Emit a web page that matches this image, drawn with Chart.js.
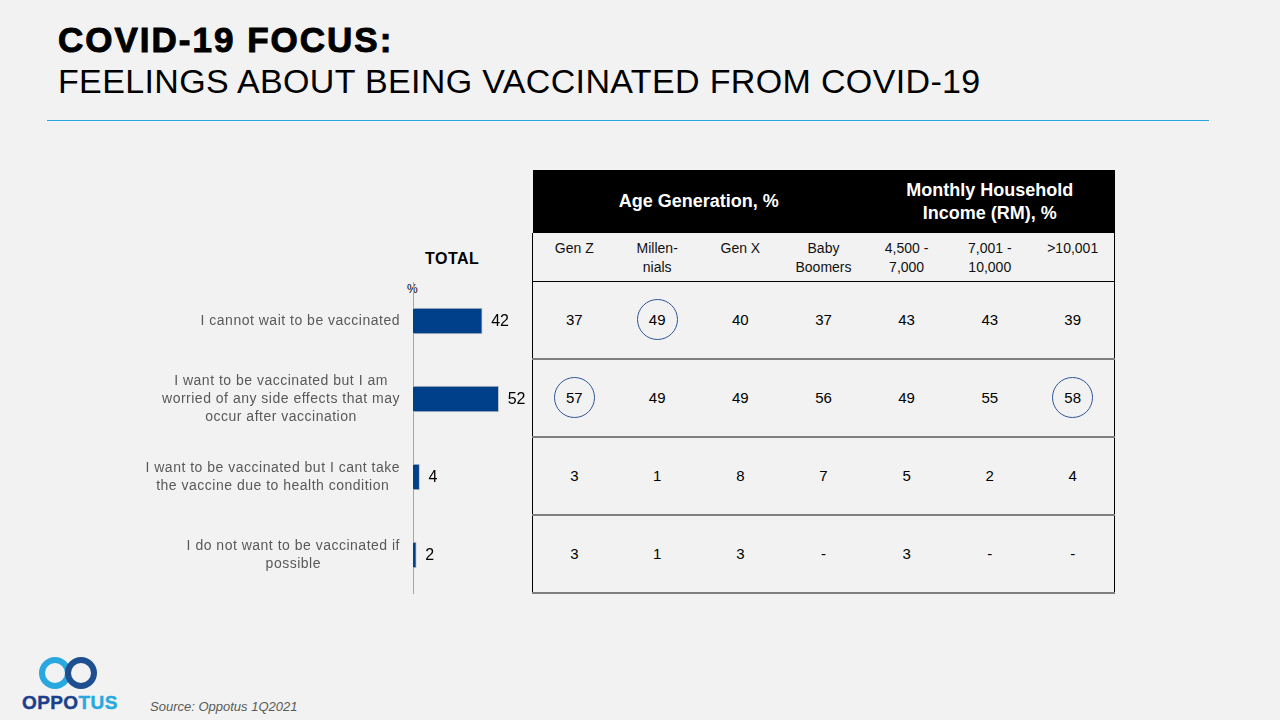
<!DOCTYPE html>
<html lang="en">

<head>
    <meta charset="UTF-8">
    <title>COVID-19 Focus - Feelings About Being Vaccinated</title>
    <script src="https://cdn.jsdelivr.net/npm/chart.js"></script>
    <style>
        body { margin: 0; width: 1280px; height: 720px; background: #f2f2f2; font-family: "Liberation Sans", Arial, sans-serif; position: relative; overflow: hidden; }
        .title { position: absolute; left: 58px; top: 20px; font-size: 35px; font-weight: bold; color: #000; -webkit-text-stroke: 1px #000; letter-spacing: 2px; }
        .subtitle { position: absolute; left: 58px; top: 62px; font-size: 34px; color: #000; letter-spacing: 0.35px; }
        .rule { position: absolute; left: 47px; top: 120px; width: 1162px; height: 1px; background: #29a8e0; }
        #chartBox { position: absolute; left: 0; top: 282px; width: 530px; height: 312px; }
        .total { position: absolute; left: 425px; top: 250px; font-size: 16px; font-weight: bold; color: #000; letter-spacing: 0.5px; }
        .pct { position: absolute; left: 407px; top: 282px; font-size: 12px; color: #000; }
        table { position: absolute; left: 532px; top: 170px; width: 583px; border-collapse: collapse; table-layout: fixed; }
        td, th { text-align: center; padding: 0; }
        th { background: #000; color: #fff; font-size: 18px; font-weight: bold; height: 63px; line-height: 23px; }
        .sub td { height: 48px; vertical-align: top; font-size: 14px; line-height: 19px; padding-top: 6px; box-sizing: border-box; color: #111; border-bottom: 1px solid #000; border-left: 1px solid #000; border-right: 1px solid #000; }
        .sub td + td { border-left: none; }
        .sub td:not(:last-child) { border-right: none; }
        .row td { height: 76px; font-size: 15px; color: #000; border-bottom: 2px solid #7f7f7f; }
        .row td:first-child { border-left: 1px solid #000; }
        .row td:last-child { border-right: 1px solid #000; }
        .ring { display: inline-block; width: 39px; height: 39px; line-height: 39px; border: 1px solid #2f5597; border-radius: 50%; }
        .logo-ring { position: absolute; width: 20px; height: 20px; border-radius: 50%; border: 6px solid; }
        .logo-text { position: absolute; left: 22px; top: 692px; font-size: 19px; font-weight: bold; letter-spacing: 0.4px; -webkit-text-stroke: 0.4px; }
        .source { position: absolute; left: 150px; top: 699px; font-size: 13px; font-style: italic; color: #595959; }
    </style>
</head>

<body>
    <div class="title">COVID-19 FOCUS:</div>
    <div class="subtitle">FEELINGS ABOUT BEING VACCINATED FROM COVID-19</div>
    <div class="rule"></div>

    <div class="total">TOTAL</div>
    <div class="pct">%</div>
    <div id="chartBox"><canvas id="totalChart"></canvas></div>

    <table id="breakdown"></table>

    <div class="logo-ring" style="left:39px; top:657px; border-color:#29a8e0;"></div>
    <div class="logo-ring" style="left:65px; top:657px; border-color:#1d4f91;"></div>
    <div class="logo-text"><span style="color:#1b3f8b">OPPO</span><span style="color:#29a8e0">TUS</span></div>
    <div class="source">Source: Oppotus 1Q2021</div>

    <script>
        // statements (one array of lines per row)
        const statements = [
            ['I cannot wait to be vaccinated'],
            ['I want to be vaccinated but I am', 'worried of any side effects that may', 'occur after vaccination'],
            ['I want to be vaccinated but I cant take', 'the vaccine due to health condition'],
            ['I do not want to be vaccinated if', 'possible']
        ];
        const totalPct = [42, 52, 4, 2];

        const groupHeaders = ['Age Generation, %', 'Monthly Household Income (RM), %'];
        const groupSpans = [4, 3];
        const subgroups = [['Gen Z'], ['Millen-', 'nials'], ['Gen X'], ['Baby', 'Boomers'], ['4,500 -', '7,000'], ['7,001 -', '10,000'], ['>10,001']];

        // values per subgroup, in statement order (null = "-")
        const genZ = [37, 57, 3, 3];
        const millennials = [49, 49, 1, 1];
        const genX = [40, 49, 8, 3];
        const babyBoomers = [37, 56, 7, null];
        const inc4500 = [43, 49, 5, 3];
        const inc7001 = [43, 55, 2, null];
        const inc10001 = [39, 58, 4, null];
        const columns = [genZ, millennials, genX, babyBoomers, inc4500, inc7001, inc10001];

        // circled cells: [row, column]
        const highlights = [[0, 1], [1, 0], [1, 6]];

        // build the table
        const table = document.getElementById('breakdown');
        let html = '<colgroup>' + subgroups.map(() => '<col>').join('') + '</colgroup>';
        html += '<tr>' + groupHeaders.map((h, i) => {
            const txt = i === 1 ? 'Monthly Household<br>Income (RM), %' : h;
            return `<th colspan="${groupSpans[i]}">${txt}</th>`;
        }).join('') + '</tr>';
        html += '<tr class="sub">' + subgroups.map(s => `<td>${s.join('<br>')}</td>`).join('') + '</tr>';
        statements.forEach((_, r) => {
            html += '<tr class="row">' + columns.map((col, c) => {
                const v = col[r] === null ? '-' : col[r];
                const hi = highlights.some(h => h[0] === r && h[1] === c);
                return `<td>${hi ? `<span class="ring">${v}</span>` : v}</td>`;
            }).join('') + '</tr>';
        });
        table.innerHTML = html;

        // labels beside the axis and values at the end of each bar
        const barText = {
            id: 'barText',
            afterDatasetsDraw(chart) {
                const ctx = chart.ctx;
                const yScale = chart.scales.y;
                const meta = chart.getDatasetMeta(0);
                ctx.save();
                ctx.font = '14px "Liberation Sans", Arial';
                ctx.letterSpacing = '0.5px';
                ctx.fillStyle = '#595959';
                ctx.textAlign = 'center';
                ctx.textBaseline = 'middle';
                statements.forEach((lines, i) => {
                    const cy = yScale.getPixelForValue(i);
                    const w = Math.max(...lines.map(l => ctx.measureText(l).width));
                    const cx = chart.chartArea.left - 13 - w / 2;
                    lines.forEach((l, k) => ctx.fillText(l, cx, cy + (k - (lines.length - 1) / 2) * 18));
                });
                ctx.font = '16px "Liberation Sans", Arial';
                ctx.letterSpacing = '0px';
                ctx.fillStyle = '#000';
                ctx.textAlign = 'left';
                meta.data.forEach((bar, i) => ctx.fillText(totalPct[i], bar.x + 9, bar.y + 1));
                ctx.restore();
            }
        };

        new Chart(document.getElementById('totalChart'), {
            type: 'bar',
            data: {
                labels: statements,
                datasets: [{
                    data: totalPct,
                    backgroundColor: '#003f8a',
                    borderColor: '#c4c4c4',
                    borderWidth: 1,
                    barThickness: 26
                }]
            },
            options: {
                indexAxis: 'y',
                responsive: true,
                maintainAspectRatio: false,
                animation: false,
                layout: { padding: 0 },
                plugins: { legend: { display: false }, tooltip: { enabled: false } },
                scales: {
                    x: { display: false, min: 0, max: 71 },
                    y: {
                        ticks: { display: false },
                        grid: { display: false },
                        border: { display: true, color: '#a6a6a6', width: 1 },
                        afterFit(scale) { scale.width = 413; }
                    }
                }
            },
            plugins: [barText]
        });
    </script>
</body>

</html>
